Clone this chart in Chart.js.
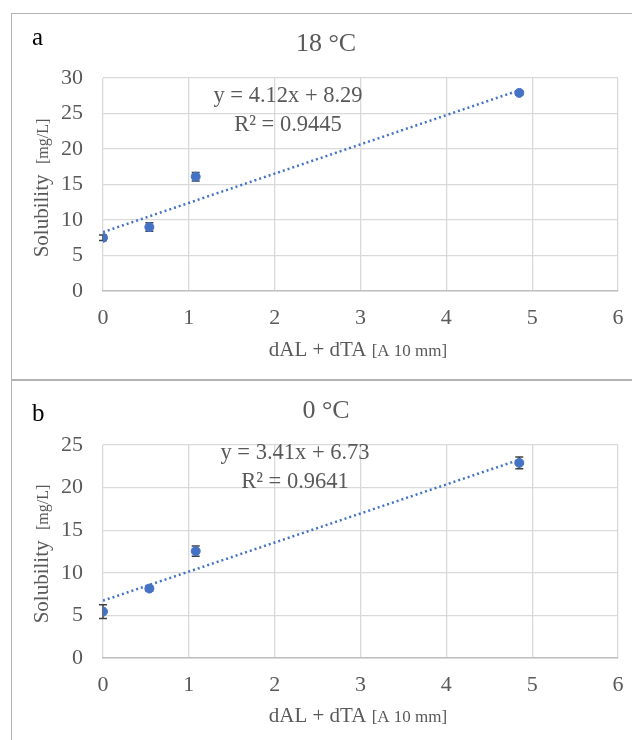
<!DOCTYPE html>
<html>
<head>
<meta charset="utf-8">
<script src="https://cdn.jsdelivr.net/npm/chart.js@4.4.0/dist/chart.umd.min.js"></script>
<style>
  body { margin: 0; width: 632px; height: 740px; overflow: hidden; background: #fff; position: relative; }
  .panel { position: absolute; left: 11px; width: 660px; border: 1px solid #b3b3b3; box-sizing: border-box; }
  canvas { position: absolute; }
</style>
</head>
<body>
<div class="panel" style="top:13px;height:367px;"></div>
<div class="panel" style="top:380px;height:380px;"></div>
<canvas id="chart18" width="620" height="365" style="left:12px;top:14px;"></canvas>
<canvas id="chart0" width="620" height="359" style="left:12px;top:381px;"></canvas>
<script>
// measured points (x = dAL + dTA)
const xVals = [0, 0.54, 1.08, 4.85];
const sol18 = [7.5, 9.0, 16.1, 27.9];
const err18 = [0.4, 0.6, 0.6, 0.3];
const sol0 = [5.45, 8.15, 12.55, 22.9];
const err0 = [0.8, 0.3, 0.6, 0.7];

// trendline end points
const trendX = [0, 4.85];
const trend18 = [8.29, 28.27];
const trend0 = [6.73, 23.27];

const xTicks = [0, 1, 2, 3, 4, 5, 6];
const yTicks18 = [0, 5, 10, 15, 20, 25, 30];
const yTicks0 = [0, 5, 10, 15, 20, 25];

const serif = "'Liberation Serif', 'Times New Roman', serif";
const grey = '#595959';
const blue = '#4472C4';

const errorBars = {
  id: 'errorBars',
  beforeDatasetsDraw(chart, args, opts) {
    const ctx = chart.ctx, xs = chart.scales.x, ys = chart.scales.y;
    ctx.save();
    ctx.strokeStyle = '#404040';
    ctx.lineWidth = 1.5;
    opts.values.forEach((v, i) => {
      const px = xs.getPixelForValue(xVals[i]);
      const lo = ys.getPixelForValue(v - opts.errors[i]);
      const hi = ys.getPixelForValue(v + opts.errors[i]);
      ctx.beginPath();
      ctx.moveTo(px, lo); ctx.lineTo(px, hi);
      ctx.moveTo(px - 4, lo); ctx.lineTo(px + 4, lo);
      ctx.moveTo(px - 4, hi); ctx.lineTo(px + 4, hi);
      ctx.stroke();
    });
    ctx.restore();
  }
};

const labels = {
  id: 'labels',
  afterDraw(chart, args, o) {
    const ctx = chart.ctx;
    ctx.save();
    ctx.textBaseline = 'alphabetic';
    // panel letter
    ctx.fillStyle = '#000';
    ctx.font = '25px ' + serif;
    ctx.textAlign = 'left';
    ctx.fillText(o.letter, 20, o.letterY);
    // title
    ctx.fillStyle = grey;
    ctx.font = '26px ' + serif;
    ctx.textAlign = 'center';
    ctx.fillText(o.title, 314, 37);
    // equation
    ctx.font = '22.5px ' + serif;
    ctx.fillText(o.eq, o.eqX, o.eqY);
    ctx.fillText(o.r2, o.eqX, o.eqY + 29);
    // x axis title
    ctx.textAlign = 'left';
    ctx.font = '21px ' + serif;
    const a = 'dAL + dTA ';
    const wa = ctx.measureText(a).width;
    ctx.font = '17px ' + serif;
    const b = '[A 10 mm]';
    const wb = ctx.measureText(b).width;
    let x0 = 346 - (wa + wb) / 2;
    ctx.font = '21px ' + serif;
    ctx.fillText(a, x0, o.xtY);
    ctx.font = '17px ' + serif;
    ctx.fillText(b, x0 + wa, o.xtY);
    // y axis title
    ctx.translate(36, o.ytY);
    ctx.rotate(-Math.PI / 2);
    ctx.font = '21px ' + serif;
    const c = 'Solubility  ';
    const wc = ctx.measureText(c).width;
    ctx.font = '16px ' + serif;
    const d = '[mg/L]';
    const wd = ctx.measureText(d).width;
    x0 = -(wc + wd) / 2;
    ctx.font = '21px ' + serif;
    ctx.fillText(c, x0, 0);
    ctx.font = '16px ' + serif;
    ctx.fillText(d, x0 + wc, 0);
    ctx.restore();
  }
};

function makeChart(id, values, errors, trend, yTicks, lab) {
  const yMax = yTicks[yTicks.length - 1];
  return new Chart(document.getElementById(id).getContext('2d'), {
    type: 'scatter',
    data: {
      datasets: [{
        data: xVals.map((x, i) => ({ x: x, y: values[i] })),
        backgroundColor: blue,
        borderColor: blue,
        pointRadius: 4.5,
        pointHoverRadius: 4.5,
        order: 0
      }, {
        type: 'line',
        data: trendX.map((x, i) => ({ x: x, y: trend[i] })),
        borderColor: blue,
        borderWidth: 2.5,
        borderDash: [2, 3],
        pointRadius: 0,
        fill: false,
        order: 1
      }]
    },
    options: {
      responsive: false,
      animation: false,
      layout: { padding: { top: 64, left: 0, right: 14, bottom: 0 } },
      plugins: {
        legend: { display: false },
        tooltip: { enabled: false },
        errorBars: { values: values, errors: errors },
        labels: lab
      },
      scales: {
        x: {
          type: 'linear', min: 0, max: 6,
          afterFit: s => {
            s.height = s.chart.height - 277;
            s.paddingLeft = 0;
            s.paddingRight = 0;
          },
          afterBuildTicks: s => { s.ticks = xTicks.map(v => ({ value: v })); },
          grid: { color: '#d9d9d9', lineWidth: 1.3, drawTicks: false },
          border: { color: '#bfbfbf', width: 1.5 },
          ticks: { color: grey, font: { family: serif, size: 22 }, padding: 14 }
        },
        y: {
          type: 'linear', min: 0, max: yMax,
          afterFit: s => { s.width = 91; },
          afterBuildTicks: s => { s.ticks = yTicks.map(v => ({ value: v })); },
          grid: { color: '#d9d9d9', lineWidth: 1.3, drawTicks: false },
          border: { display: false },
          ticks: { color: grey, font: { family: serif, size: 22 }, padding: 20 }
        }
      }
    },
    plugins: [errorBars, labels]
  });
}

makeChart('chart18', sol18, err18, trend18, yTicks18, {
  letter: 'a', letterY: 31, title: '18 °C',
  eq: 'y = 4.12x + 8.29', r2: 'R² = 0.9445', eqX: 276, eqY: 88,
  xtY: 342, ytY: 174
});
makeChart('chart0', sol0, err0, trend0, yTicks0, {
  letter: 'b', letterY: 40, title: '0 °C',
  eq: 'y = 3.41x + 6.73', r2: 'R² = 0.9641', eqX: 283, eqY: 78,
  xtY: 341, ytY: 173
});
</script>
</body>
</html>
